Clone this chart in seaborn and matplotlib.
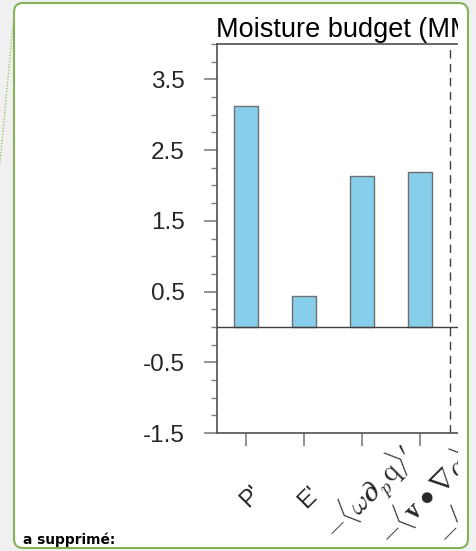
import numpy as np
import pandas as pd
import seaborn as sns
import matplotlib
matplotlib.use("Agg")
import matplotlib.pyplot as plt
import matplotlib.transforms as mtransforms
from matplotlib.patches import FancyBboxPatch, Rectangle
from matplotlib.lines import Line2D
from matplotlib.ticker import FixedLocator, MultipleLocator

# Budget terms and their values
terms = ["P'", "E'",
         r"$-\langle\omega\boldsymbol{\partial}_p \mathrm{q}\rangle'$",
         r"$-\langle\mathbf{v}\bullet\nabla q\rangle'$"]
values = [3.12, 0.43, 2.13, 2.19]
next_terms = [r"$-\langle q\nabla\bullet\mathbf{v}\rangle'$"]
y_ticks = [-1.5, -0.5, 0.5, 1.5, 2.5, 3.5]
y_tick_labels = ["-1.5", "-0.5", "0.5", "1.5", "2.5", "3.5"]
title = "Moisture budget (MMF)"
note = "a supprimé:"

W, H = 476, 551
sns.set_theme(style="white")
plt.rcParams["font.family"] = ["Liberation Sans", "DejaVu Sans"]
plt.rcParams["mathtext.fontset"] = "cm"

fig = plt.figure(figsize=(W / 100, H / 100), dpi=100)
fig.patch.set_facecolor("#f0f0f0")
px = mtransforms.IdentityTransform()

# page box behind the chart
fig.add_artist(FancyBboxPatch((14, 3), 454, 545, boxstyle="round,pad=0,rounding_size=9",
                              transform=px, facecolor="white", edgecolor="none", zorder=-5))

# axes geometry in pixels
left, top, bottom = 217, 44, 433
unit = 58
ax = fig.add_axes([left / W, (H - bottom) / H, 6 * unit / W, (bottom - top) / H])
ax.set_facecolor("none")

df = pd.DataFrame({"term": terms, "value": values})
sns.barplot(data=df, x="term", y="value", color="#87CEEB", saturation=1,
            edgecolor="#6e6e6e", linewidth=1.0, width=0.41, ax=ax)

ax.set_xlim(-0.5, 5.5)
ax.set_ylim(-1.5, 4.0)
ax.axhline(0, color="#404040", lw=1.0, zorder=3)
ax.axvline(3.52, color="#404040", lw=1.0, ls=(0, (6, 4)), zorder=3)

ax.yaxis.set_major_locator(FixedLocator(y_ticks))
ax.set_yticklabels(y_tick_labels)
ax.yaxis.set_minor_locator(MultipleLocator(0.25))
all_terms = terms + next_terms
ax.set_xticks(range(len(all_terms)))
ax.set_xticklabels(all_terms)
ax.set_xlabel("")
ax.set_ylabel("")

for s in ["left", "top", "bottom"]:
    ax.spines[s].set_color("#505050")
    ax.spines[s].set_linewidth(1.2)
ax.spines["right"].set_visible(False)

ax.tick_params(axis="y", which="major", direction="out", length=9.4, width=1.2,
               color="#7f7f7f", pad=13.7, labelsize=17.5, left=True)
ax.tick_params(axis="y", which="minor", direction="out", length=4.3, width=1.0,
               color="#7f7f7f", left=True)
ax.tick_params(axis="x", which="major", direction="out", length=9.4, width=1.2,
               color="#7f7f7f", pad=36, bottom=True)

for lab in ax.get_xticklabels():
    txt = lab.get_text()
    is_math = txt.startswith("$")
    dx, dy = (8, 3) if is_math else (5, -1)
    shift = mtransforms.ScaledTranslation(dx / 100, dy / 100, fig.dpi_scale_trans)
    lab.set_rotation(45)
    lab.set_rotation_mode("anchor")
    lab.set_ha("center")
    lab.set_va("center")
    lab.set_fontsize(20 if is_math else 17)
    lab.set_transform(lab.get_transform() + shift)

fig.text(216, H - 37, title, transform=px, fontsize=19.5, ha="left", va="baseline",
         color="black")

# right edge of the page box, drawn over the chart
fig.add_artist(Rectangle((458, 10), 10, 532, transform=px, facecolor="white",
                         edgecolor="none", zorder=10))
fig.add_artist(Rectangle((468.5, 0), 10, H, transform=px, facecolor="#f0f0f0",
                         edgecolor="none", zorder=10))
fig.add_artist(FancyBboxPatch((14, 3), 454, 545, boxstyle="round,pad=0,rounding_size=9",
                              transform=px, facecolor="none", edgecolor="#86b257",
                              lw=1.5, zorder=11))
fig.add_artist(Line2D([14, 0], [H - 15, H - 163], transform=px, color="#9cc06c",
                      lw=1.0, ls=(0, (1, 1.2)), zorder=11))
fig.text(23, 7, note, transform=px, fontsize=9.9, fontweight="bold",
         family="DejaVu Sans", color="black", zorder=12)

fig.savefig("out.png", dpi=100)
